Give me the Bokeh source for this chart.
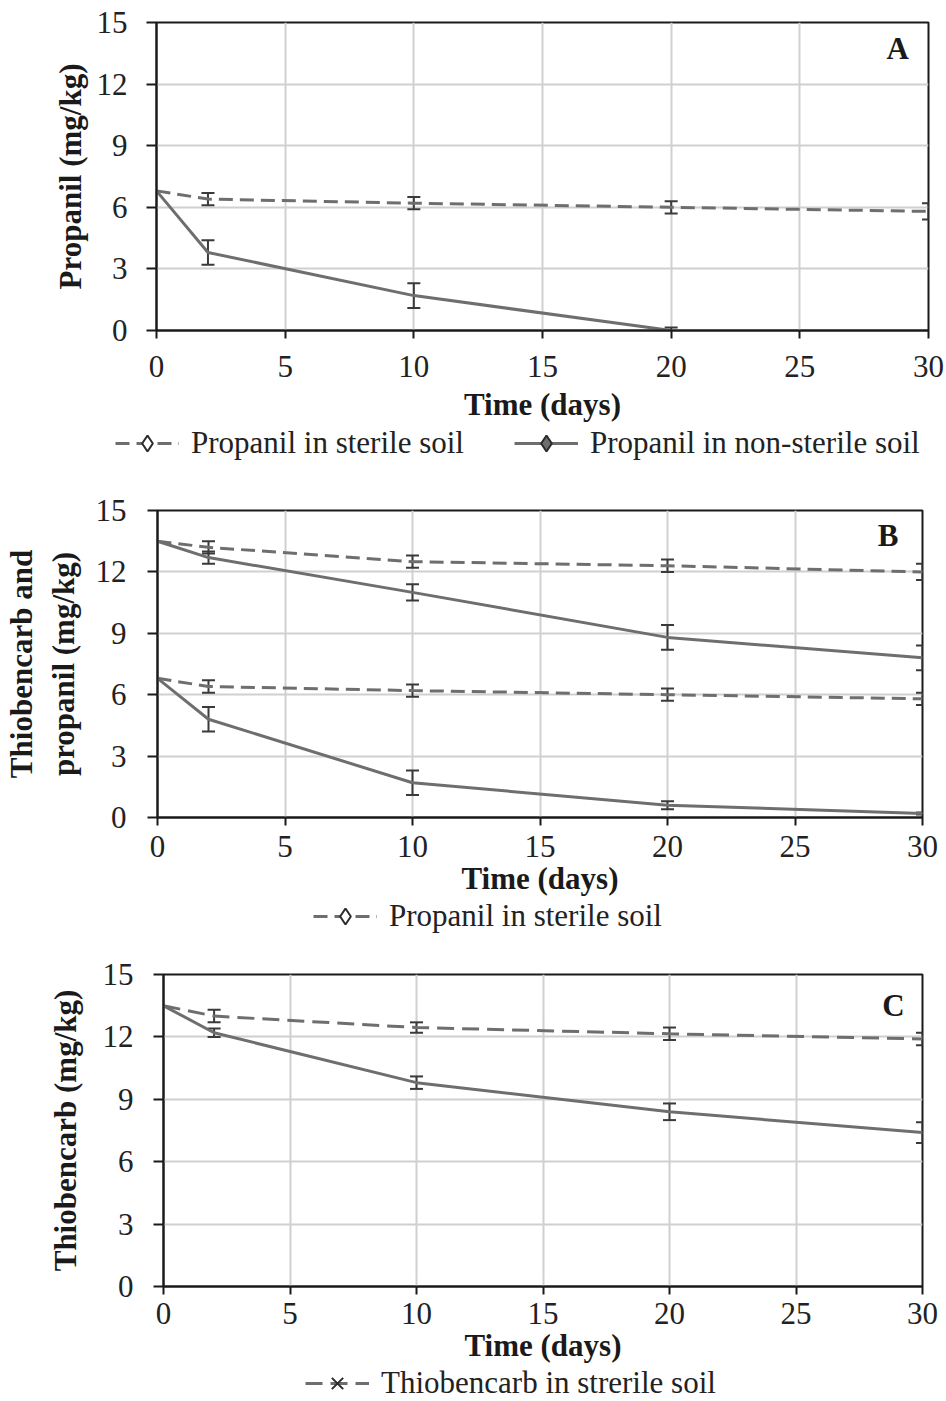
from bokeh.plotting import figure
from bokeh.models import (Range1d, ColumnDataSource, Whisker, TeeHead, Legend,
                          LegendItem, Label, FixedTicker)
from bokeh.embed import file_html
from bokeh.resources import INLINE

# ---------------- data ----------------
days = [0, 2, 10, 20, 30]
days_a_nonsterile = [0, 2, 10, 20]

# Panel A
a_prop_sterile = [6.8, 6.4, 6.2, 6.0, 5.8]
a_prop_sterile_err = [0, 0.3, 0.3, 0.3, 0.4]
a_prop_nonsterile = [6.8, 3.8, 1.7, 0.0]
a_prop_nonsterile_err = [0, 0.6, 0.6, 0.15]

# Panel B
b_thio_sterile = [13.5, 13.2, 12.5, 12.3, 12.0]
b_thio_sterile_err = [0, 0.3, 0.3, 0.3, 0.4]
b_thio_nonsterile = [13.5, 12.7, 11.0, 8.8, 7.8]
b_thio_nonsterile_err = [0, 0.3, 0.4, 0.6, 0.6]
b_prop_sterile = [6.8, 6.4, 6.2, 6.0, 5.8]
b_prop_sterile_err = [0, 0.3, 0.3, 0.3, 0.3]
b_prop_nonsterile = [6.8, 4.8, 1.7, 0.6, 0.2]
b_prop_nonsterile_err = [0, 0.6, 0.6, 0.2, 0.05]

# Panel C
c_thio_sterile = [13.5, 13.0, 12.45, 12.15, 11.9]
c_thio_sterile_err = [0, 0.3, 0.25, 0.3, 0.3]
c_thio_nonsterile = [13.5, 12.2, 9.8, 8.4, 7.4]
c_thio_nonsterile_err = [0, 0.2, 0.3, 0.4, 0.5]

x_ticks = [0, 5, 10, 15, 20, 25, 30]
y_ticks = [0, 3, 6, 9, 12, 15]

FONT = "Liberation Serif"
FS = "31px"
LINE = "#6e6e6e"
BAR = "#3a3a3a"
GRID = "#d0d0d0"
TOTAL_W = 946


def make_fig(h, left, right, top, bottom, ylabel, letter, lx, ly,
             lab_standoff, title_standoff, ylab_standoff, ytick_standoff):
    p = figure(width=TOTAL_W, height=h,
               x_range=Range1d(0, 30), y_range=Range1d(0, 15),
               output_backend="svg", toolbar_location=None,
               min_border_left=left, min_border_top=top,
               min_border_bottom=bottom, min_border_right=right)
    p.background_fill_color = "white"
    p.border_fill_color = "white"
    p.outline_line_color = "#1a1a1a"
    p.outline_line_width = 2
    p.xaxis.ticker = FixedTicker(ticks=x_ticks)
    p.yaxis.ticker = FixedTicker(ticks=y_ticks)
    p.xgrid.ticker = FixedTicker(ticks=x_ticks)
    p.ygrid.ticker = FixedTicker(ticks=y_ticks)
    p.grid.grid_line_color = GRID
    p.grid.grid_line_width = 2
    for ax in (p.xaxis, p.yaxis):
        ax.axis_line_color = "#1a1a1a"
        ax.axis_line_width = 2
        ax.major_tick_line_color = "#1a1a1a"
        ax.major_tick_line_width = 2
        ax.major_tick_in = 0
        ax.minor_tick_line_color = None
        ax.major_label_text_font = FONT
        ax.major_label_text_font_size = FS
        ax.major_label_text_color = "#222222"
        ax.axis_label_text_font = FONT
        ax.axis_label_text_font_size = FS
        ax.axis_label_text_font_style = "bold"
        ax.axis_label_text_color = "#1a1a1a"
    p.xaxis.major_tick_out = 8
    p.yaxis.major_tick_out = 10
    p.xaxis.major_label_standoff = lab_standoff
    p.yaxis.major_label_standoff = ytick_standoff
    p.xaxis.axis_label = "Time (days)"
    p.xaxis.axis_label_standoff = title_standoff
    p.yaxis.axis_label = ylabel
    p.yaxis.axis_label_standoff = ylab_standoff
    p.add_layout(Label(x=lx, y=ly, text=letter, text_font=FONT,
                       text_font_size=FS, text_font_style="bold",
                       text_align="center", text_baseline="middle",
                       text_color="#1a1a1a"))
    return p


def add_series(p, xs, ys, errs, dash):
    p.line(xs, ys, line_color=LINE, line_width=3, line_dash=dash)
    bx = [x for x, e in zip(xs, errs) if e > 0]
    lo = [y - e for y, e in zip(ys, errs) if e > 0]
    hi = [y + e for y, e in zip(ys, errs) if e > 0]
    src = ColumnDataSource(dict(base=bx, lower=lo, upper=hi))
    p.add_layout(Whisker(source=src, base="base", lower="lower", upper="upper",
                         line_color=BAR, line_width=2,
                         upper_head=TeeHead(size=13, line_color=BAR, line_width=2),
                         lower_head=TeeHead(size=13, line_color=BAR, line_width=2)))


def legend_fig(h, entries, xoff, spacing):
    """A strip below a chart that carries its legend (series markers shown only here)."""
    q = figure(width=TOTAL_W, height=h, x_range=Range1d(0, 30),
               y_range=Range1d(0, 15), output_backend="svg",
               toolbar_location=None, min_border=0,
               x_axis_location=None, y_axis_location=None)
    q.grid.visible = False
    q.outline_line_color = None
    q.background_fill_color = "white"
    q.border_fill_color = "white"
    items = []
    for label, xs, ys, dash, marker, fill in entries:
        ln = q.line(xs, ys, line_color=LINE, line_width=3, line_dash=dash,
                    visible=False)
        mk = q.scatter(xs, ys, marker=marker, size=15, fill_color=fill,
                       line_color="#2a2a2a", line_width=2, visible=False)
        items.append(LegendItem(label=label, renderers=[ln, mk]))
    lg = Legend(items=items, orientation="horizontal", location="left",
                border_line_alpha=0, background_fill_alpha=0,
                label_text_font=FONT, label_text_font_size=FS,
                label_text_color="#222222",
                glyph_width=64, glyph_height=40, label_standoff=12,
                spacing=spacing, padding=0, margin=xoff)
    q.add_layout(lg)
    return q


DASH = "14 7"
DASH_C = "17 8"

# Panel A
pa = make_fig(424, 156, 18, 22, 92, "Propanil (mg/kg)", "A", 28.8, 13.75,
              17, 7, 6, 19)
add_series(pa, days, a_prop_sterile, a_prop_sterile_err, DASH)
add_series(pa, days_a_nonsterile, a_prop_nonsterile, a_prop_nonsterile_err, "solid")
la = legend_fig(38, [("Propanil in sterile soil", days, a_prop_sterile, DASH,
                      "diamond", "white"),
                     ("Propanil in non-sterile soil", days_a_nonsterile,
                      a_prop_nonsterile, "solid", "diamond", LINE)], 115, 50)

# Panel B
pb = make_fig(436, 144, 24, 48, 80, "Thiobencarb and\npropanil (mg/kg)", "B",
              28.65, 13.8, 10, 1, 12, 21)
add_series(pb, days, b_thio_sterile, b_thio_sterile_err, DASH)
add_series(pb, days, b_thio_nonsterile, b_thio_nonsterile_err, "solid")
add_series(pb, days, b_prop_sterile, b_prop_sterile_err, DASH)
add_series(pb, days, b_prop_nonsterile, b_prop_nonsterile_err, "solid")
lb = legend_fig(36, [("Propanil in sterile soil", days, b_prop_sterile, DASH,
                      "diamond", "white")], 313, 50)

# Panel C
pc = make_fig(431, 163, 24, 40, 76, "Thiobencarb (mg/kg)", "C", 28.85, 13.5,
              8, 1, 17, 20)
add_series(pc, days, c_thio_sterile, c_thio_sterile_err, DASH_C)
add_series(pc, days, c_thio_nonsterile, c_thio_nonsterile_err, "solid")
lc = legend_fig(36, [("Thiobencarb in strerile soil", days, c_thio_sterile,
                      DASH_C, "x", "white")], 305, 50)

open("out.html", "w").write(file_html([pa, la, pb, lb, pc, lc], INLINE))
